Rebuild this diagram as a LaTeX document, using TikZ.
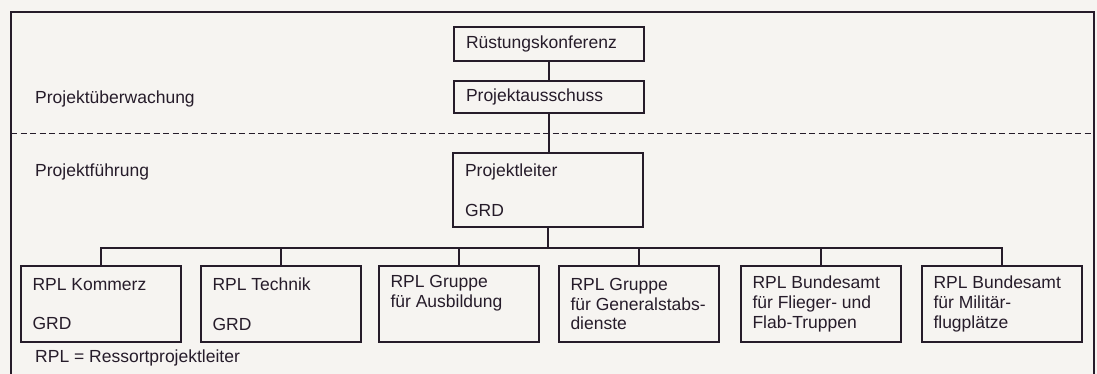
\documentclass[tikz,border=0pt]{standalone}
\usepackage{fontspec}
\setmainfont{Liberation Sans}
\definecolor{ink}{RGB}{38,28,42}
\definecolor{paper}{RGB}{246,244,241}
\begin{document}
\begin{tikzpicture}[x=1pt,y=-1pt,
  every node/.style={font=\fontsize{17.5}{19.8}\selectfont, text=ink},
  topbox/.style={draw=ink, line width=1.7pt, minimum width=190pt, inner xsep=12pt,
                 text width=166pt, align=flush left, inner ysep=0pt},
  rplbox/.style={draw=ink, line width=1.7pt, minimum width=160pt, minimum height=76pt,
                 inner xsep=11.5pt, text width=137pt, align=flush left, inner ysep=0pt},
  lab/.style={anchor=west, inner sep=0pt},
  conn/.style={draw=ink, line width=1.7pt}]
\useasboundingbox (0,0) rectangle (1097,374);
\fill[paper] (0,0) rectangle (1097,374);
% frame
\draw[ink, line width=1.8pt] (11,374) -- (11,12) -- (1094,12) -- (1094,374);
\draw[ink, line width=1pt, dash pattern=on 6pt off 3.5pt] (11,134) -- (1094,134);
% section labels
\node[lab] (ueberw) at (35,99) {Projektüberwachung};
\node[lab] (fuehr) at (35,172) {Projektführung};
\node[lab] (legend) at (35,358) {RPL = Ressortprojektleiter};
% top boxes
\node[topbox, minimum height=34pt] (rk) at (549,44) {Rüstungskonferenz};
\node[topbox, minimum height=32pt] (pa) at (549,97) {Projektausschuss};
\node[topbox, minimum height=74pt] (pl) at (548,190) {Projektleiter\\[0pt]\strut\\GRD};
% bottom boxes
\node[rplbox] (b1) at (101,304) {RPL Kommerz\\\strut\\GRD};
\node[rplbox] (b2) at (281,304) {RPL Technik\\\strut\\GRD};
\node[rplbox] (b3) at (459,304) {RPL Gruppe\\für Ausbildung\\\strut};
\node[rplbox] (b4) at (639,304) {RPL Gruppe\\für Generalstabs-\\dienste};
\node[rplbox] (b5) at (821,304) {RPL Bundesamt\\für Flieger- und\\Flab-Truppen};
\node[rplbox] (b6) at (1002,304) {RPL Bundesamt\\für Militär-\\flugplätze};
% connectors
\draw[conn] (rk.south) -- (pa.north);
\draw[conn] (pa.south) -- (pa.south |- pl.north);
\coordinate (bus) at (548,248);
\draw[conn] (pl.south) -- (bus);
\draw[conn] (b1.north) |- (b6.north |- bus) -- (b6.north);
\foreach \b in {b2,b3,b4,b5} \draw[conn] (\b.north) -- (\b.north |- bus);
\end{tikzpicture}
\end{document}
